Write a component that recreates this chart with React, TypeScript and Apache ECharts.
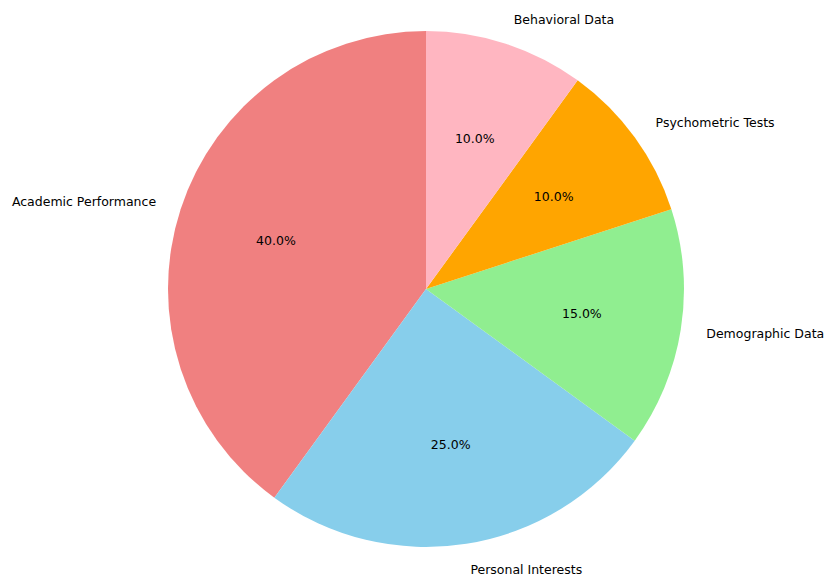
import React, { useEffect, useRef } from "react";
import * as echarts from "echarts";

const categories = [
  "Academic Performance",
  "Personal Interests",
  "Demographic Data",
  "Psychometric Tests",
  "Behavioral Data",
];
const values = [40, 25, 15, 10, 10];
const colors = ["#F08080", "#87CEEB", "#90EE90", "#FFA500", "#FFB6C1"];

const R = 258;
const CENTER = [426, 289];
const FONT = "DejaVu Sans";
const FS = 12.5;

export default function App() {
  const ref = useRef<HTMLDivElement>(null);
  useEffect(() => {
    if (!ref.current) return;
    const chart = echarts.init(ref.current, null, { renderer: "svg" });
    const data = categories.map((name, i) => ({
      name,
      value: values[i],
      itemStyle: { color: colors[i] },
    }));
    chart.setOption({
      animation: false,
      series: [
        {
          type: "pie",
          center: CENTER,
          radius: [0, R],
          startAngle: 90,
          clockwise: false,
          avoidLabelOverlap: false,
          silent: true,
          itemStyle: { borderWidth: 0 },
          label: {
            show: true,
            position: "outside",
            formatter: "{b}",
            fontFamily: FONT,
            fontSize: FS,
            color: "#000",
            distanceToLabelLine: 0,
          },
          labelLine: { show: false, length: R * 0.1, length2: 0 },
          data,
        },
        {
          type: "pie",
          center: CENTER,
          radius: [0, R * 1.2],
          startAngle: 90,
          clockwise: false,
          avoidLabelOverlap: false,
          silent: true,
          itemStyle: { color: "rgba(0,0,0,0)", borderWidth: 0 },
          label: {
            show: true,
            position: "inside",
            formatter: (p: any) => p.percent.toFixed(1) + "%",
            fontFamily: FONT,
            fontSize: FS,
            color: "#000",
          },
          labelLine: { show: false },
          data: categories.map((name, i) => ({
            name,
            value: values[i],
            itemStyle: { color: "rgba(0,0,0,0)" },
          })),
        },
      ],
    });
    return () => chart.dispose();
  }, []);
  return (
    <div
      ref={ref}
      style={{ position: "fixed", left: 0, top: 0, width: 824, height: 580, background: "#fff" }}
    />
  );
}
